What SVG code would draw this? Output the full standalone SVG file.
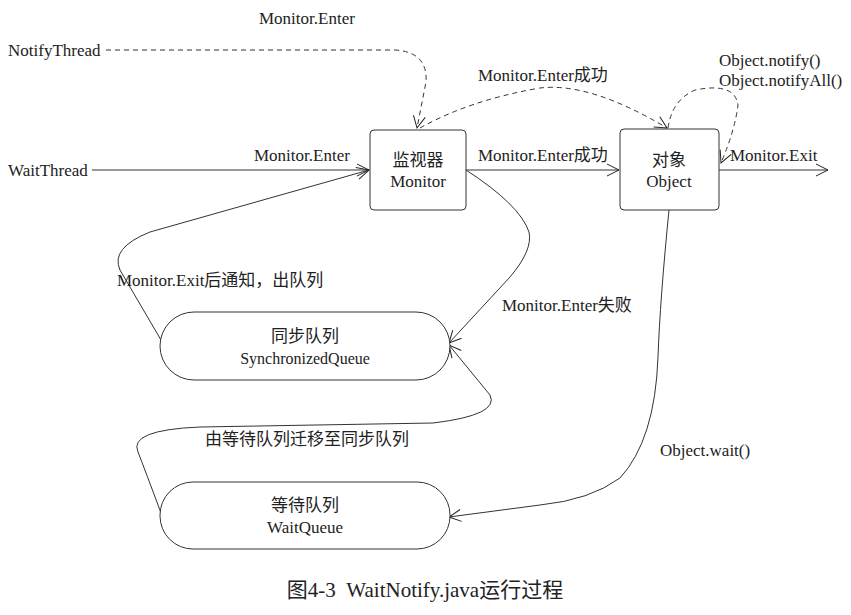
<svg xmlns="http://www.w3.org/2000/svg" width="851" height="615" viewBox="0 0 851 615">
<defs>
<marker id="arr" markerUnits="userSpaceOnUse" markerWidth="16" markerHeight="14" refX="13" refY="7" orient="auto">
<path d="M1,1 L13,7 L1,13" fill="none" stroke="#222" stroke-width="1"/>
</marker>
</defs>
<style>
text{font-family:"Liberation Serif","Noto Sans CJK SC",serif;font-size:17px;fill:#222}
.c{text-anchor:middle}
.node{fill:#fff;stroke:#333;stroke-width:1}
.e{fill:none;stroke:#333;stroke-width:1;marker-end:url(#arr)}
.d{stroke-dasharray:5,4}
</style>
<rect width="851" height="615" fill="#fff"/>

<g id="connectors">
<path class="e d" d="M106,50 L395,50 Q428,52 426,82 L417,128"/>
<path class="e" d="M92,170 L369,170"/>
<path class="e d" d="M420,128 Q470,100 540,88 Q590,82 667,128"/>
<path class="e" d="M466,170 L619,170"/>
<path class="e d" d="M668,128 Q672,100 695,90 Q735,82 738,105 Q735,130 721,163"/>
<path class="e" d="M719,170 L828,170"/>
<path class="e" d="M466,170 Q520,205 529,232 Q533,250 510,277 L449,343"/>
<path class="e" d="M161,340 L120,270 Q110,248 150,232 L369,170"/>
<path class="e" d="M669,210 Q660,300 658,357 Q655,440 620,478 Q590,500 540,505 L449,517"/>
<path class="e" d="M161,513 Q145,470 138,452 Q128,430 200,427 L433,423 Q500,415 490,395 L449,345"/>
</g>

<g id="monitor">
<rect class="node" x="370" y="130" width="96" height="80" rx="4"/>
<text class="c" x="418" y="166">监视器</text>
<text class="c" x="418" y="187">Monitor</text>
</g>
<g id="object">
<rect class="node" x="620" y="129" width="99" height="81" rx="4"/>
<text class="c" x="669" y="166">对象</text>
<text class="c" x="669" y="187">Object</text>
</g>
<g id="syncqueue">
<rect class="node" x="160" y="312" width="290" height="68" rx="34"/>
<text class="c" x="305" y="342">同步队列</text>
<text class="c" x="305" y="364" style="font-size:16px">SynchronizedQueue</text>
</g>
<g id="waitqueue">
<rect class="node" x="160" y="482" width="290" height="67" rx="33"/>
<text class="c" x="305" y="511">等待队列</text>
<text class="c" x="305" y="533">WaitQueue</text>
</g>

<g id="labels">
<text x="8" y="56">NotifyThread</text>
<text x="8" y="176">WaitThread</text>
<text x="259" y="24">Monitor.Enter</text>
<text x="254" y="161">Monitor.Enter</text>
<text x="478" y="81">Monitor.Enter成功</text>
<text x="478" y="161">Monitor.Enter成功</text>
<text x="719" y="66">Object.notify()</text>
<text x="719" y="86">Object.notifyAll()</text>
<text x="730" y="161">Monitor.Exit</text>
<text x="117" y="286">Monitor.Exit后通知，出队列</text>
<text x="502" y="311">Monitor.Enter失败</text>
<text x="205" y="445">由等待队列迁移至同步队列</text>
<text x="660" y="456">Object.wait()</text>
<text class="c" x="425" y="597" style="font-size:21px;white-space:pre" xml:space="preserve">图4-3  WaitNotify.java运行过程</text>
</g>
</svg>
